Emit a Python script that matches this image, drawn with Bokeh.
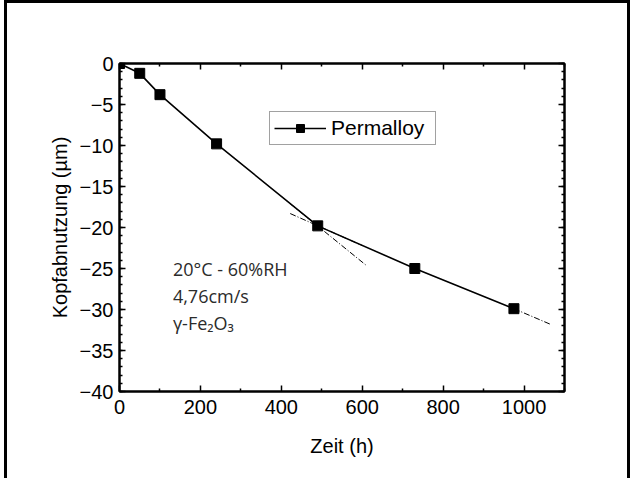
from bokeh.plotting import figure
from bokeh.models import Range1d, FixedTicker, LinearAxis, Label, Legend, LegendItem
from bokeh.embed import file_html
from bokeh.resources import INLINE

# ---- data ----
time_h = [0, 50, 100, 240, 490, 730, 975]
wear_um = [0, -1.2, -3.8, -9.8, -19.8, -25.0, -29.9]
extrap_x = [975, 1065]
extrap_y = [-29.9, -31.8]
tangent_a_x = [422, 612]
tangent_a_y = [-17.1, -24.7]
tangent_b_x = [422, 600]
tangent_b_y = [-18.3, -22.2]
x_ticks = [0, 200, 400, 600, 800, 1000]
x_minor = [100, 300, 500, 700, 900, 1100]
y_ticks = [0, -5, -10, -15, -20, -25, -30, -35, -40]
y_minor = list(range(-40, 1))
annot_lines = ["20°C - 60%RH", "4,76cm/s", "γ-Fe₂O₃"]

FONT = "Liberation Sans"

p = figure(width=626, height=478, output_backend="svg", toolbar_location=None,
           x_range=Range1d(0, 1100), y_range=Range1d(-40, 0),
           min_border_left=112, min_border_right=69, min_border_top=60, min_border_bottom=90,
           styles={"border-left": "3px solid black", "border-top": "3px solid black",
                   "border-right": "3px solid black", "margin-left": "4px"})
p.xgrid.visible = False
p.ygrid.visible = False
p.outline_line_color = "black"
p.outline_line_width = 2
p.background_fill_color = "white"
p.border_fill_color = "white"

def style_axis(ax, ticks, minor, show_labels=True):
    ax.ticker = FixedTicker(ticks=ticks, minor_ticks=minor)
    ax.axis_line_color = "black"
    ax.axis_line_width = 2
    ax.major_tick_in = 6
    ax.major_tick_out = 0
    ax.minor_tick_in = 3
    ax.minor_tick_out = 0
    ax.major_tick_line_width = 1.5
    ax.minor_tick_line_width = 1.5
    ax.major_label_text_font = FONT
    ax.major_label_text_font_size = "20px"
    ax.major_label_text_color = "black"
    if not show_labels:
        ax.major_label_overrides = {t: "" for t in ticks}
    ax.axis_label_text_font = FONT
    ax.axis_label_text_font_size = "20px"
    ax.axis_label_text_font_style = "normal"
    ax.axis_label_text_color = "black"

xa = p.xaxis[0]
ya = p.yaxis[0]
style_axis(xa, x_ticks, x_minor)
style_axis(ya, y_ticks, y_minor)
xa.axis_label = "Zeit (h)"
ya.axis_label = "Kopfabnutzung (µm)"
xa.major_label_standoff = 8
xa.axis_label_standoff = 18
ya.major_label_standoff = 6
ya.axis_label_standoff = 6

top_ax = LinearAxis()
style_axis(top_ax, x_ticks, x_minor, show_labels=False)
right_ax = LinearAxis()
style_axis(right_ax, y_ticks, y_minor, show_labels=False)
p.add_layout(top_ax, "above")
p.add_layout(right_ax, "right")

# curve and markers
line_r = p.line(time_h, wear_um, line_color="black", line_width=1.6)
pts_r = p.scatter(time_h, wear_um, marker="square", size=10, fill_color="black", line_color="black")
p.line(extrap_x, extrap_y, line_color="black", line_width=1, line_dash="6 2 1 2")
p.line(tangent_a_x, tangent_a_y, line_color="black", line_width=1, line_dash="6 2 1 2")
p.line(tangent_b_x, tangent_b_y, line_color="black", line_width=1, line_dash="6 2 1 2")

legend = Legend(items=[LegendItem(label="Permalloy", renderers=[line_r, pts_r])],
                location=(150, 246), orientation="vertical",
                label_text_font=FONT, label_text_font_size="21px", label_text_color="black",
                glyph_width=52, glyph_height=20, label_height=20, label_standoff=5,
                label_width=100, padding=4, spacing=0, margin=0,
                border_line_color="#444444", border_line_width=1,
                background_fill_color="white", background_fill_alpha=1)
p.add_layout(legend, "center")

for i, txt in enumerate(annot_lines):
    p.add_layout(Label(x=132, y=[-25.0, -28.3, -31.6][i], text=txt,
                       text_font="Open Sans", text_font_size="18px",
                       text_color="#2b2b2b", text_baseline="alphabetic"))

open("out.html", "w").write(file_html(p, INLINE))
